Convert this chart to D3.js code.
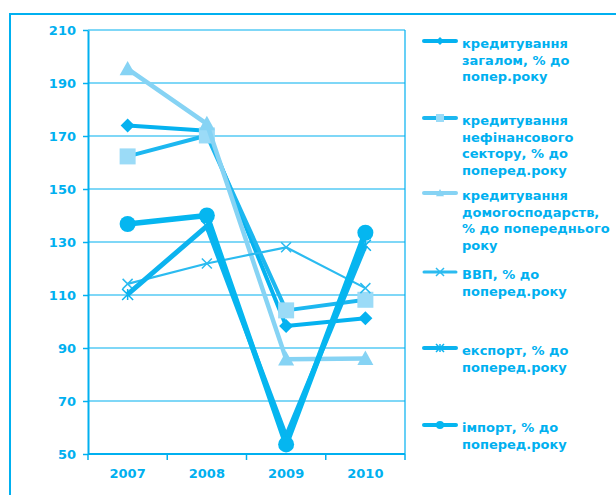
<!DOCTYPE html>
<html>
<head>
<meta charset="utf-8">
<script src="https://cdn.jsdelivr.net/npm/d3@7"></script>
<style>
  html, body { margin: 0; padding: 0; background: #fff; }
  svg { display: block; }
  text { font-family: "DejaVu Sans", Verdana, sans-serif; font-weight: bold; fill: #00b0f0; }
</style>
</head>
<body>
<div id="chart"></div>
<script>
// =============================================================================
// DATA
// =============================================================================

const years = ['2007', '2008', '2009', '2010'];
const yTicks = [50, 70, 90, 110, 130, 150, 170, 190, 210];

const creditTotal = [174, 172, 98.3, 101.2];
const creditNonFin = [162.3, 170.2, 104.2, 108.2];
const creditHouse = [195.3, 174.6, 85.8, 86];
const gdp = [114.2, 121.9, 128, 112.6];
const exportVals = [110.2, 136, 56.5, 128.8];
const importVals = [136.8, 140, 53.6, 133.5];

const seriesNames = [
  ['кредитування', 'загалом, % до', 'попер.року'],
  ['кредитування', 'нефінансового', 'сектору, % до', 'поперед.року'],
  ['кредитування', 'домогосподарств,', '% до попереднього', 'року'],
  ['ВВП, % до', 'поперед.року'],
  ['експорт, % до', 'поперед.року'],
  ['імпорт, % до', 'поперед.року']
];

// =============================================================================
// STYLES
// =============================================================================

const CYAN = '#00b0f0';
const styles = [
  { line: '#05b2f0', fill: '#05b2f0', width: 4, marker: 'diamond', size: 14 },
  { line: '#1cb7f0', fill: '#9bdbf7', width: 4, marker: 'square', size: 16 },
  { line: '#86d3f4', fill: '#86d3f4', width: 4.5, marker: 'triangle', size: 16 },
  { line: '#2bbbf0', fill: '#2bbbf0', width: 2.2, marker: 'x', size: 10 },
  { line: '#0cb3ef', fill: '#0cb3ef', width: 5, marker: 'star', size: 11 },
  { line: '#05b6f0', fill: '#05b6f0', width: 5.5, marker: 'circle', size: 16 }
];
const series = [creditTotal, creditNonFin, creditHouse, gdp, exportVals, importVals];

const W = 616, H = 495;
const plot = { left: 88, right: 405, top: 30, bottom: 454 };
const legendLineY = [41, 118, 193, 272, 348, 425];

// =============================================================================
// SCALES
// =============================================================================

const x = d3.scaleBand().domain(years).range([plot.left, plot.right]).padding(0);
const y = d3.scaleLinear().domain([50, 210]).range([plot.bottom, plot.top]);
const cx = d => x(d) + x.bandwidth() / 2;

const svg = d3.select('#chart').append('svg')
  .attr('width', W)
  .attr('height', H);

// outer frame
svg.append('rect')
  .attr('x', 10).attr('y', 14)
  .attr('width', 700).attr('height', 600)
  .attr('fill', 'none')
  .attr('stroke', CYAN)
  .attr('stroke-width', 2);

// gridlines
svg.append('g')
  .selectAll('line')
  .data(yTicks)
  .join('line')
  .attr('x1', plot.left).attr('x2', plot.right)
  .attr('y1', d => y(d)).attr('y2', d => y(d))
  .attr('stroke', CYAN)
  .attr('stroke-width', 1.2);

// right border of plot
svg.append('line')
  .attr('x1', plot.right).attr('x2', plot.right)
  .attr('y1', plot.top).attr('y2', plot.bottom)
  .attr('stroke', CYAN).attr('stroke-width', 1.2);

// y axis
const yAxis = svg.append('g')
  .attr('transform', `translate(${plot.left},0)`)
  .call(d3.axisLeft(y).tickValues(yTicks).tickSize(5).tickPadding(7).tickSizeOuter(0));
yAxis.select('.domain').attr('stroke', CYAN).attr('stroke-width', 2);
yAxis.selectAll('.tick line').attr('stroke', CYAN).attr('stroke-width', 1.5);
yAxis.selectAll('.tick text')
  .attr('fill', CYAN)
  .style('font-size', '13px')
  .style('font-family', '"DejaVu Sans", Verdana, sans-serif')
  .style('font-weight', 'bold');

// x axis: ticks at band edges
const xAxis = svg.append('g')
  .attr('transform', `translate(0,${plot.bottom})`);
xAxis.append('line')
  .attr('x1', plot.left).attr('x2', plot.right)
  .attr('stroke', CYAN).attr('stroke-width', 2);
const edges = years.map(d => x(d)).concat([plot.right]);
xAxis.selectAll('line.edge')
  .data(edges)
  .join('line')
  .attr('class', 'edge')
  .attr('x1', d => d).attr('x2', d => d)
  .attr('y1', 0).attr('y2', 6)
  .attr('stroke', CYAN).attr('stroke-width', 1.5);
xAxis.selectAll('text')
  .data(years)
  .join('text')
  .attr('x', d => cx(d))
  .attr('y', 24)
  .attr('text-anchor', 'middle')
  .style('font-size', '13px')
  .text(d => d);

// =============================================================================
// MARKERS
// =============================================================================

function drawMarker(g, type, size, fill, stroke) {
  const h = size / 2;
  switch (type) {
    case 'diamond':
      g.append('path').attr('d', `M0,${-h}L${h},0L0,${h}L${-h},0Z`).attr('fill', fill);
      break;
    case 'square':
      g.append('rect').attr('x', -h).attr('y', -h).attr('width', size).attr('height', size).attr('fill', fill);
      break;
    case 'triangle':
      g.append('path').attr('d', `M0,${-h}L${h},${h * 0.8}L${-h},${h * 0.8}Z`).attr('fill', fill);
      break;
    case 'circle':
      g.append('circle').attr('r', h).attr('fill', fill);
      break;
    case 'x':
      g.append('path').attr('d', `M${-h},${-h}L${h},${h}M${-h},${h}L${h},${-h}`)
        .attr('stroke', stroke).attr('stroke-width', 1.5).attr('fill', 'none');
      break;
    case 'star':
      g.append('path').attr('d', `M${-h},${-h}L${h},${h}M${-h},${h}L${h},${-h}M0,${-h}L0,${h}`)
        .attr('stroke', stroke).attr('stroke-width', 1.5).attr('fill', 'none');
      break;
  }
}

// =============================================================================
// SERIES
// =============================================================================

const line = d3.line().x((d, i) => cx(years[i])).y(d => y(d));

series.forEach((vals, si) => {
  const st = styles[si];
  const g = svg.append('g');
  g.append('path')
    .datum(vals)
    .attr('d', line)
    .attr('fill', 'none')
    .attr('stroke', st.line)
    .attr('stroke-width', st.width)
    .attr('stroke-linejoin', 'round');
  vals.forEach((v, i) => {
    const m = g.append('g').attr('transform', `translate(${cx(years[i])},${y(v)})`);
    drawMarker(m, st.marker, st.size, st.fill, st.line);
  });
});

// =============================================================================
// LEGEND
// =============================================================================

const legend = svg.append('g');
seriesNames.forEach((rows, si) => {
  const st = styles[si];
  const ly = legendLineY[si];
  legend.append('line')
    .attr('x1', 424).attr('x2', 456)
    .attr('y1', ly).attr('y2', ly)
    .attr('stroke', st.line)
    .attr('stroke-width', si === 3 ? 3 : 4)
    .attr('stroke-linecap', 'round');
  const m = legend.append('g').attr('transform', `translate(440,${ly})`);
  drawMarker(m, st.marker, 8, st.fill, st.line);
  const t = legend.append('text')
    .attr('x', 462)
    .attr('y', ly + 7)
    .style('font-size', '13px');
  rows.forEach((r, ri) => {
    t.append('tspan').attr('x', 462).attr('dy', ri === 0 ? 0 : 16.5).text(r);
  });
});
</script>
</body>
</html>
